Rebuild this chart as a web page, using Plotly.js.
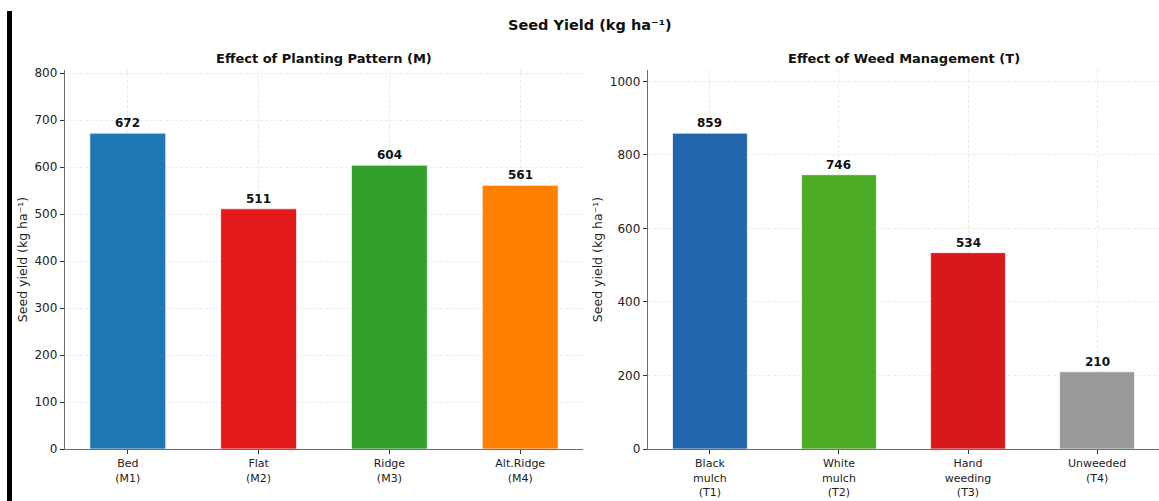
<!DOCTYPE html>
<html>
<head>
<meta charset="utf-8">
<script src="https://cdn.plot.ly/plotly-3.0.1.min.js"></script>
<style>
html,body{margin:0;padding:0;background:#fff;}
#wrap{position:relative;width:1159px;height:501px;}
#bar{position:absolute;left:7px;top:11px;width:5px;height:490px;background:#000;z-index:5;}
#chart{position:absolute;left:0;top:0;width:1159px;height:501px;}
</style>
</head>
<body>
<div id="wrap"><div id="bar"></div><div id="chart"></div></div>
<script>
// Data
const patternLabels = ["Bed<br>(M1)", "Flat<br>(M2)", "Ridge<br>(M3)", "Alt.Ridge<br>(M4)"];
const patternYield = [672, 511, 604, 561];
const patternColors = ["#1f77b4", "#e31a1c", "#33a02c", "#ff7f00"];

const weedLabels = ["Black<br>mulch<br>(T1)", "White<br>mulch<br>(T2)", "Hand<br>weeding<br>(T3)", "Unweeded<br>(T4)"];
const weedYield = [859, 746, 534, 210];
const weedColors = ["#2166ac", "#4dac26", "#d7191c", "#999999"];

const mainTitle = "Seed Yield (kg ha⁻¹)";
const leftTitle = "Effect of Planting Pattern (M)";
const rightTitle = "Effect of Weed Management (T)";
const yTitle = "Seed yield (kg ha⁻¹)";

const FONT = "DejaVu Sans, sans-serif";
const idx = a => a.map((_, i) => i);

const traces = [
  {type:'bar', x: idx(patternYield), y: patternYield, width: 0.58,
   marker:{color: patternColors, line:{color:'rgba(255,255,255,0.7)', width:1}},
   xaxis:'x', yaxis:'y', hoverinfo:'none'},
  {type:'bar', x: idx(weedYield), y: weedYield, width: 0.58,
   marker:{color: weedColors, line:{color:'rgba(255,255,255,0.7)', width:1}},
   xaxis:'x2', yaxis:'y2', hoverinfo:'none'}
];

const annotations = [];
patternYield.forEach((v,i)=>annotations.push({x:i, y:v, xref:'x', yref:'y', text:'<b>'+v+'</b>', showarrow:false, yanchor:'bottom', yshift:1, font:{family:FONT, size:12, color:'#111'}}));
weedYield.forEach((v,i)=>annotations.push({x:i, y:v, xref:'x2', yref:'y2', text:'<b>'+v+'</b>', showarrow:false, yanchor:'bottom', yshift:1, font:{family:FONT, size:12, color:'#111'}}));
annotations.push({text:'<b>'+mainTitle+'</b>', xref:'paper', yref:'paper', x:0.509, y:1.12, xanchor:'center', yanchor:'middle', showarrow:false, font:{family:FONT, size:14.5, color:'#111'}});
annotations.push({text:'<b>'+leftTitle+'</b>', xref:'paper', yref:'paper', x:0.2795, y:1.03, xanchor:'center', yanchor:'middle', showarrow:false, font:{family:FONT, size:13, color:'#111'}});
annotations.push({text:'<b>'+rightTitle+'</b>', xref:'paper', yref:'paper', x:0.78, y:1.03, xanchor:'center', yanchor:'middle', showarrow:false, font:{family:FONT, size:13, color:'#111'}});

const axX = (labels) => ({
  tickmode:'array', tickvals: idx(labels), ticktext: labels,
  range:[-0.48, 3.48], showline:true, linecolor:'#6e6e6e', linewidth:1.2,
  ticks:'outside', ticklen:4, tickcolor:'#333', tickwidth:1,
  showgrid:true, gridcolor:'#ebebeb', griddash:'3px,2px', gridwidth:1,
  zeroline:false, tickfont:{family:FONT, size:11, color:'#222'}, fixedrange:true
});
const axY = (max, dtick) => ({
  range:[0, max*1.2], dtick: dtick, showline:true, linecolor:'#6e6e6e', linewidth:1.2,
  ticks:'outside', ticklen:4, tickcolor:'#333', tickwidth:1,
  showgrid:true, gridcolor:'#ebebeb', griddash:'3px,2px', gridwidth:1,
  zeroline:false, tickfont:{family:FONT, size:12, color:'#222'},
  title:{text:yTitle, font:{family:FONT, size:12.5, color:'#222'}, standoff:4}, fixedrange:true
});

const layout = {
  width:1159, height:501,
  margin:{l:0, r:0, t:70, b:52},
  paper_bgcolor:'#fff', plot_bgcolor:'#fff',
  showlegend:false, bargap:0,
  font:{family:FONT},
  xaxis: Object.assign(axX(patternLabels), {domain:[65/1159, 583/1159], anchor:'y'}),
  yaxis: Object.assign(axY(Math.max(...patternYield), 100), {domain:[0,1], anchor:'x'}),
  xaxis2: Object.assign(axX(weedLabels), {domain:[648/1159, 1], anchor:'y2'}),
  yaxis2: Object.assign(axY(Math.max(...weedYield), 200), {domain:[0,1], anchor:'x2'}),
  annotations: annotations
};

Plotly.newPlot('chart', traces, layout, {displayModeBar:false, staticPlot:true});
</script>
</body>
</html>
